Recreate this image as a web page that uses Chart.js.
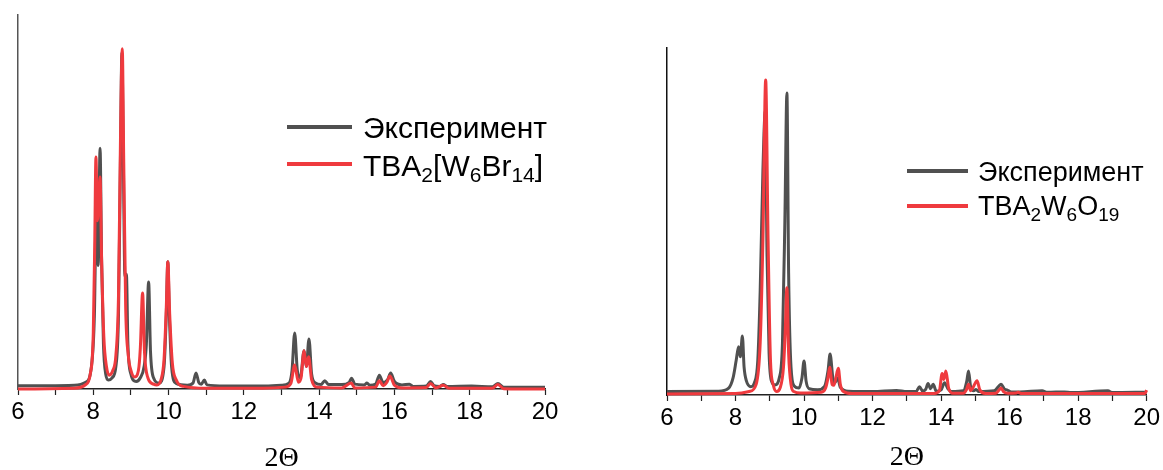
<!DOCTYPE html>
<html>
<head>
<meta charset="utf-8">
<script src="https://cdn.jsdelivr.net/npm/chart.js@4.4.1/dist/chart.umd.min.js"></script>
<style>
  html, body { margin: 0; padding: 0; background: #fff; }
  body { width: 1163px; height: 470px; position: relative; overflow: hidden; font-family: 'Liberation Sans', Arial, sans-serif; }
  .box { position: absolute; top: 0; height: 470px; }
  .leg-line { position: absolute; height: 4px; }
  .leg-text { position: absolute; white-space: nowrap; color: #000; }
  .sb { position: relative; }
</style>
</head>
<body>
<div class="box" style="left:0;width:580px;"><canvas id="leftChart"></canvas></div>
<div class="box" style="left:600px;width:563px;"><canvas id="rightChart"></canvas></div>

<!-- legends (HTML so subscripts stay real text) -->
<div class="leg-line" style="left:287px;top:125px;width:65px;background:#505050;"></div>
<div class="leg-text" style="left:363px;top:113px;font-size:30px;line-height:30px;">Эксперимент</div>
<div class="leg-line" style="left:287px;top:162px;width:65px;background:#ef3a3e;"></div>
<div class="leg-text" style="left:363px;top:151px;font-size:30px;line-height:30px;">TBA<span class="sb" style="font-size:21px;top:6px;">2</span>[W<span class="sb" style="font-size:21px;top:6px;">6</span>Br<span class="sb" style="font-size:21px;top:6px;">14</span>]</div>

<div class="leg-line" style="left:907px;top:169px;width:61px;background:#505050;"></div>
<div class="leg-text" style="left:978px;top:159px;font-size:27px;line-height:27px;">Эксперимент</div>
<div class="leg-line" style="left:907px;top:204px;width:61px;background:#ef3a3e;"></div>
<div class="leg-text" style="left:978px;top:193px;font-size:27px;line-height:27px;">TBA<span class="sb" style="font-size:19px;top:6px;">2</span>W<span class="sb" style="font-size:19px;top:6px;">6</span>O<span class="sb" style="font-size:19px;top:6px;">19</span></div>

<script>
// Left panel: experiment vs TBA2[W6Br14] (intensity in % of axis height)
const leftExpX = [6.0, 7.0, 7.5, 7.8, 7.95, 8.03, 8.09, 8.13, 8.18, 8.22, 8.27, 8.33, 8.4, 8.5, 8.6, 8.67, 8.72, 8.76, 8.8, 8.84, 8.88, 8.92, 9.0, 9.14, 9.25, 9.35, 9.41, 9.47, 9.52, 9.6, 9.75, 9.88, 9.94, 9.98, 10.02, 10.08, 10.2, 10.5, 10.65, 10.73, 10.8, 10.87, 10.95, 11.02, 11.5, 12.5, 13.0, 13.2, 13.28, 13.35, 13.42, 13.5, 13.6, 13.66, 13.73, 13.8, 13.9, 14.05, 14.15, 14.25, 14.6, 14.8, 14.86, 14.95, 15.2, 15.27, 15.35, 15.5, 15.6, 15.7, 15.82, 15.9, 16.0, 16.2, 16.4, 16.5, 16.85, 16.96, 17.05, 17.2, 17.3, 17.4, 18.05, 18.6, 18.75, 18.9, 20.0];
const leftExpY = [0.9, 0.9, 1.0, 1.8, 6, 20, 55, 33, 64.4, 35, 12, 4, 2.4, 3, 6, 20, 60, 90, 60, 30, 30.7, 12, 4, 2, 3, 6, 12, 28.6, 10, 3, 1.6, 6, 20, 34, 20, 6, 1.5, 1, 1.6, 4.3, 1.8, 1.3, 2.4, 1.1, 0.8, 0.8, 1, 1.6, 5, 15, 5, 3, 10.2, 6, 13.4, 4, 1.6, 1.2, 2.2, 1.2, 1.2, 1.8, 2.9, 1.3, 1.1, 1.6, 1.0, 1.3, 3.7, 1.7, 2.5, 4.3, 2.0, 1.1, 1.3, 0.7, 0.8, 2, 0.9, 0.7, 1.2, 0.7, 0.8, 0.6, 1.5, 0.5, 0.5];
const leftCalcX = [6.0, 7.5, 7.8, 7.92, 8.0, 8.04, 8.07, 8.11, 8.15, 8.18, 8.22, 8.28, 8.35, 8.42, 8.52, 8.6, 8.67, 8.72, 8.77, 8.81, 8.86, 8.93, 9.0, 9.1, 9.2, 9.25, 9.31, 9.36, 9.45, 9.6, 9.69, 9.8, 9.88, 9.94, 9.98, 10.03, 10.1, 10.2, 10.4, 11.0, 12.5, 13.1, 13.25, 13.35, 13.45, 13.52, 13.6, 13.66, 13.72, 13.8, 13.95, 14.6, 14.85, 14.95, 15.5, 15.6, 15.7, 15.8, 15.88, 16.0, 16.2, 16.85, 16.96, 17.1, 17.3, 17.45, 18.6, 18.75, 18.9, 20.0];
const leftCalcY = [0, 0.2, 1.2, 4, 15, 40, 62, 45, 52, 56.7, 35, 14, 6, 3.7, 5, 9, 25, 65, 91, 60, 22, 9, 5, 3.2, 5, 11, 25.7, 10, 3, 1.3, 1.1, 2.5, 8, 22, 34, 20, 7, 2.5, 0.7, 0.2, 0.2, 0.5, 1.5, 6.4, 1.8, 3, 10.2, 6, 8.6, 2.5, 0.5, 0.3, 1.6, 0.3, 0.5, 2.2, 0.9, 1.8, 3.5, 1, 0.3, 0.4, 1.5, 0.3, 1.0, 0.2, 0.2, 1.2, 0.1, 0];

// Right panel: experiment vs TBA2W6O19
const rightExpX = [6.0, 7.5, 7.8, 7.93, 8.02, 8.09, 8.14, 8.2, 8.25, 8.32, 8.45, 8.55, 8.65, 8.72, 8.8, 8.87, 8.92, 8.98, 9.05, 9.15, 9.28, 9.37, 9.44, 9.5, 9.55, 9.62, 9.72, 9.85, 9.94, 10.0, 10.06, 10.15, 10.4, 10.6, 10.7, 10.76, 10.84, 10.9, 10.98, 11.06, 11.3, 12.0, 12.7, 13.0, 13.28, 13.37, 13.46, 13.55, 13.62, 13.69, 13.77, 13.86, 14.0, 14.1, 14.2, 14.3, 14.65, 14.75, 14.8, 14.86, 14.95, 15.02, 15.1, 15.55, 15.68, 15.75, 15.85, 15.92, 16.05, 16.3, 16.95, 17.1, 17.6, 17.8, 18.87, 19.0, 20.0];
const rightExpY = [1.0, 1.1, 2, 5, 10, 13.9, 11, 17, 8, 4, 2.4, 3.5, 10, 30, 65, 82, 40, 12, 4, 2.9, 5, 15, 50, 87, 35, 8, 2.5, 2, 5, 9.8, 4, 1.8, 1.5, 2.5, 7, 11.8, 5, 3.5, 5, 2.2, 1.1, 1.0, 1.3, 1.0, 1.1, 2.4, 1.1, 1.6, 3.3, 1.8, 3.1, 1.1, 1.5, 3.5, 1.8, 1.0, 1.2, 4, 6.9, 2.5, 1.2, 1.6, 1.0, 1.2, 2.5, 3.1, 1.7, 1.5, 0.9, 0.9, 1.2, 0.8, 0.9, 0.7, 1.2, 0.7, 0.8];
const rightCalcX = [6.0, 8.0, 8.4, 8.6, 8.72, 8.8, 8.88, 8.95, 9.02, 9.1, 9.2, 9.3, 9.4, 9.45, 9.5, 9.55, 9.62, 9.7, 9.9, 10.5, 10.63, 10.7, 10.75, 10.82, 10.87, 10.93, 11.0, 11.06, 11.15, 11.4, 13.8, 13.95, 14.03, 14.08, 14.14, 14.22, 14.35, 14.65, 14.74, 14.8, 14.86, 14.95, 15.05, 15.13, 15.3, 15.6, 15.7, 15.75, 15.82, 15.95, 16.2, 16.25, 16.35, 19.95, 20.0];
const rightCalcY = [0.3, 0.4, 1.0, 3, 15, 45, 90.8, 45, 10, 3, 1, 2, 8, 18, 30.9, 12, 3, 1, 0.6, 0.8, 2, 5, 8, 3, 2.8, 5, 7.7, 3, 1, 0.4, 0.4, 1.2, 6.2, 4.5, 6.9, 2, 0.5, 0.5, 1.5, 3.1, 1.2, 2.5, 4.1, 1.5, 0.4, 0.5, 1.5, 2, 1, 0.5, 0.6, 0.8, 0.4, 0.4, 1.4];

const tickLabels = [6, 8, 10, 12, 14, 16, 18, 20];

const grayColor = '#505050';
const redColor = '#ef3a3e';

function toPoints(xs, ys) {
    return xs.map((x, i) => ({ x: x, y: ys[i] }));
}

function makeChart(id, expX, expY, calcX, calcY, pad, axisHeight, yAxisColor, titlePad) {
    return new Chart(document.getElementById(id), {
        type: 'line',
        data: {
            datasets: [
                {
                    label: 'calc',
                    data: toPoints(calcX, calcY),
                    borderColor: redColor,
                    borderWidth: 3,
                    pointRadius: 0,
                    cubicInterpolationMode: 'monotone',
                    clip: false,
                    order: 0
                },
                {
                    label: 'Эксперимент',
                    data: toPoints(expX, expY),
                    borderColor: grayColor,
                    borderWidth: 3,
                    pointRadius: 0,
                    cubicInterpolationMode: 'monotone',
                    clip: false,
                    order: 1
                }
            ]
        },
        options: {
            responsive: true,
            maintainAspectRatio: false,
            animation: false,
            events: [],
            layout: { padding: pad },
            plugins: { legend: { display: false }, tooltip: { enabled: false } },
            scales: {
                x: {
                    type: 'linear',
                    min: 6,
                    max: 20,
                    afterFit: (s) => { s.height = axisHeight; },
                    ticks: {
                        stepSize: 1,
                        autoSkip: false,
                        maxRotation: 0,
                        padding: 3,
                        color: '#000',
                        font: { family: "'Liberation Sans', Arial, sans-serif", size: 24 },
                        callback: (v) => tickLabels.includes(v) ? String(v) : ''
                    },
                    grid: {
                        display: true,
                        drawOnChartArea: false,
                        drawTicks: true,
                        tickLength: 6,
                        tickWidth: 1.2,
                        color: '#222'
                    },
                    border: { display: true, color: '#222', width: 1.5 },
                    title: {
                        display: true,
                        text: '2Θ',
                        color: '#000',
                        padding: { top: 0, bottom: titlePad },
                        font: { family: "'Liberation Serif', 'Times New Roman', serif", size: 28, lineHeight: 0.8 }
                    }
                },
                y: {
                    min: 0,
                    max: 100,
                    afterFit: (s) => { s.width = 0; },
                    ticks: { display: false },
                    grid: { display: false },
                    border: { display: true, color: yAxisColor, width: 1.5 }
                }
            }
        }
    });
}

makeChart('leftChart', leftExpX, leftExpY, leftCalcX, leftCalcY,
    { left: 18, right: 35, top: 15, bottom: 0 }, 81, '#555', 0);
makeChart('rightChart', rightExpX, rightExpY, rightCalcX, rightCalcY,
    { left: 67, right: 14, top: 48, bottom: 0 }, 75, '#111', 1);
</script>
</body>
</html>
